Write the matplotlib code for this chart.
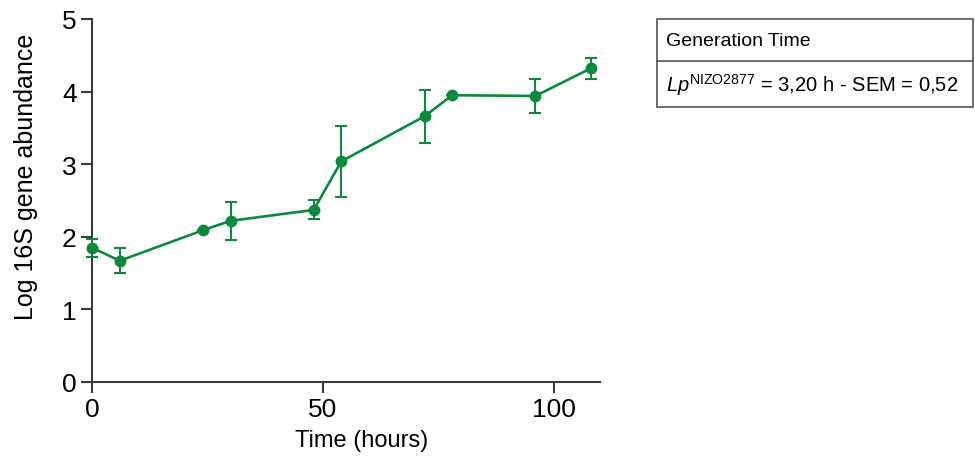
import matplotlib
matplotlib.use("Agg")
import matplotlib.pyplot as plt
from matplotlib.patches import Rectangle
from matplotlib.lines import Line2D

plt.rcParams['font.family'] = ['Liberation Sans', 'DejaVu Sans']
plt.rcParams['mathtext.fontset'] = 'custom'
plt.rcParams['mathtext.rm'] = 'Liberation Sans'
plt.rcParams['mathtext.it'] = 'Liberation Sans:italic'

# data
hours = [0, 6, 24, 30, 48, 54, 72, 78, 96, 108]
log_abundance = [1.85, 1.67, 2.09, 2.22, 2.37, 3.04, 3.66, 3.95, 3.94, 4.32]
sem = [0.125, 0.17, 0.0, 0.26, 0.13, 0.49, 0.365, 0.0, 0.24, 0.145]

x_ticks = [0, 50, 100]
y_ticks = [0, 1, 2, 3, 4, 5]

green = '#0b8a3e'
axis_col = '#3a3a3a'

fig = plt.figure(figsize=(9.75, 4.64), dpi=100)
ax = fig.add_axes([92 / 975, 1 - 383 / 464, 508 / 975, 363 / 464])

ax.errorbar(hours, log_abundance, yerr=sem, color=green, lw=1.9, marker='o',
            ms=7.5, capsize=4.5, elinewidth=1.5, capthick=1.5, clip_on=False,
            zorder=3)

ax.set_xlim(0, 110)
ax.set_ylim(0, 5)
ax.set_xticks(x_ticks)
ax.set_yticks(y_ticks)
for s in ['top', 'right']:
    ax.spines[s].set_visible(False)
for s in ['left', 'bottom']:
    ax.spines[s].set_color(axis_col)
    ax.spines[s].set_linewidth(1.5)
ax.tick_params(direction='out', length=8, width=1.5, color=axis_col,
               labelsize=19, pad=3)
ax.set_xlabel('Time (hours)', fontsize=17)
ax.set_ylabel('Log 16S gene abundance', fontsize=18)
# labels in the original sit a bit off-centre
ax.xaxis.set_label_coords(0.53, -0.13)
ax.yaxis.set_label_coords(-0.106, 0.567)

# generation time box
x0, x1 = 657 / 975, 973 / 975
y_top, y_mid, y_bot = 1 - 20 / 464, 1 - 62 / 464, 1 - 108 / 464
fig.patches.append(Rectangle((x0, y_bot), x1 - x0, y_top - y_bot,
                             transform=fig.transFigure, fill=False,
                             edgecolor='#555555', lw=1.2))
fig.lines.append(Line2D([x0, x1], [y_mid, y_mid], transform=fig.transFigure,
                        color='#555555', lw=1.2))
fig.text(x0 + 9 / 975, (y_top + y_mid) / 2, 'Generation Time', fontsize=14,
         va='center', ha='left')
fig.text(x0 + 9 / 975, (y_mid + y_bot) / 2,
         r'$\mathit{Lp}^{\mathrm{NIZO2877}}$ = 3,20 h - SEM = 0,52',
         fontsize=14.5, va='center', ha='left')

fig.savefig('out.png', dpi=100)
